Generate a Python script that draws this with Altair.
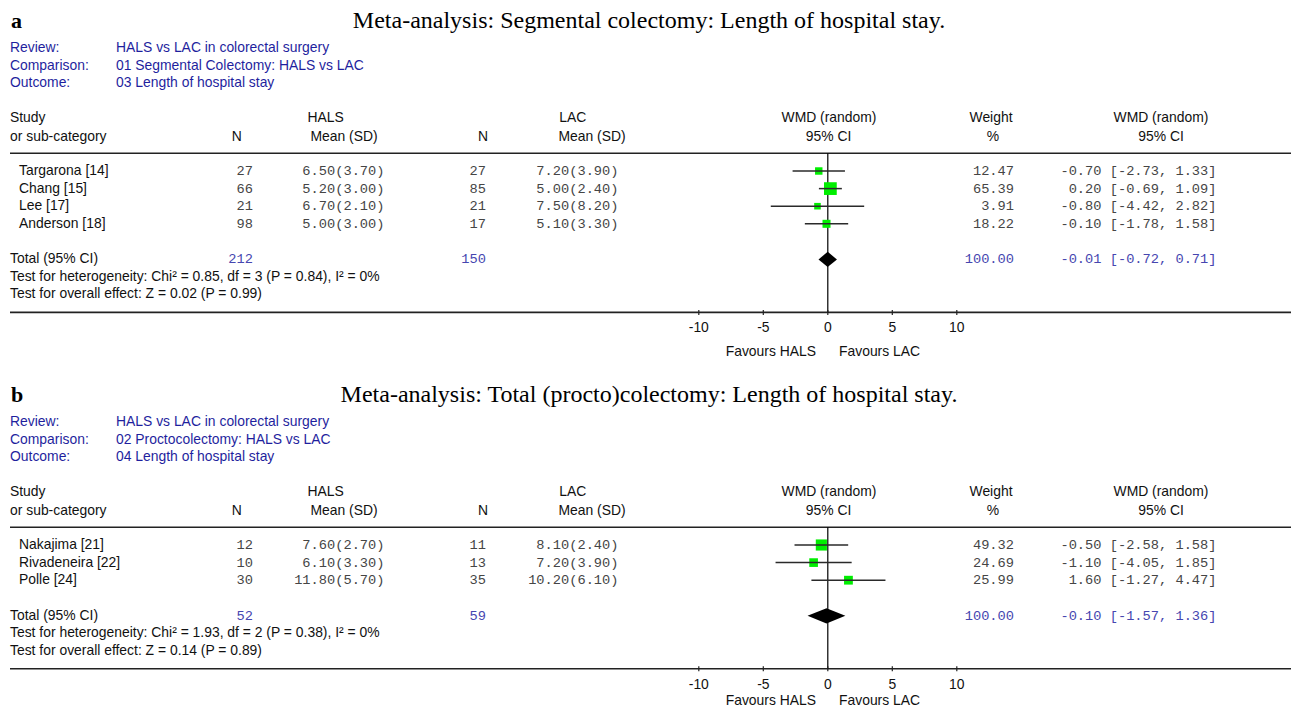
import altair as alt
import pandas as pd

# ---------------- data ----------------
# Panel a: Segmental colectomy
a_title = "Meta-analysis: Segmental colectomy: Length of hospital stay."
a_review = "HALS vs LAC in colorectal surgery"
a_comparison = "01 Segmental Colectomy: HALS vs LAC"
a_outcome = "03 Length of hospital stay"
a_study = ["Targarona [14]", "Chang [15]", "Lee [17]", "Anderson [18]"]
a_hals_n = [27, 66, 21, 98]
a_hals_mean = [6.50, 5.20, 6.70, 5.00]
a_hals_sd = [3.70, 3.00, 2.10, 3.00]
a_lac_n = [27, 85, 21, 17]
a_lac_mean = [7.20, 5.00, 7.50, 5.10]
a_lac_sd = [3.90, 2.40, 8.20, 3.30]
a_weight = [12.47, 65.39, 3.91, 18.22]
a_md = [-0.70, 0.20, -0.80, -0.10]
a_lo = [-2.73, -0.69, -4.42, -1.78]
a_hi = [1.33, 1.09, 2.82, 1.58]
a_total_n = [212, 150]
a_total_est = [-0.01, -0.72, 0.71]
a_het = "Test for heterogeneity: Chi\u00b2 = 0.85, df = 3 (P = 0.84), I\u00b2 = 0%"
a_overall = "Test for overall effect: Z = 0.02 (P = 0.99)"

# Panel b: Total (procto)colectomy
b_title = "Meta-analysis: Total (procto)colectomy: Length of hospital stay."
b_review = "HALS vs LAC in colorectal surgery"
b_comparison = "02 Proctocolectomy: HALS vs LAC"
b_outcome = "04 Length of hospital stay"
b_study = ["Nakajima [21]", "Rivadeneira [22]", "Polle [24]"]
b_hals_n = [12, 10, 30]
b_hals_mean = [7.60, 6.10, 11.80]
b_hals_sd = [2.70, 3.30, 5.70]
b_lac_n = [11, 13, 35]
b_lac_mean = [8.10, 7.20, 10.20]
b_lac_sd = [2.40, 3.90, 6.10]
b_weight = [49.32, 24.69, 25.99]
b_md = [-0.50, -1.10, 1.60]
b_lo = [-2.58, -4.05, -1.27]
b_hi = [1.58, 1.85, 4.47]
b_total_n = [52, 59]
b_total_est = [-0.10, -1.57, 1.36]
b_het = "Test for heterogeneity: Chi\u00b2 = 1.93, df = 2 (P = 0.38), I\u00b2 = 0%"
b_overall = "Test for overall effect: Z = 0.14 (P = 0.89)"

tick_values = [-10, -5, 0, 5, 10]

# ---------------- layout ----------------
W, H = 1283, 700
OX, OY = 8, 8              # page offset of the plot origin
K = 12.9                   # px per WMD unit
ZERO = 827.8 - OX          # x pixel of 0
XMIN = -ZERO / K
XMAX = XMIN + W / K
xscale = alt.Scale(domain=[XMIN, XMAX], nice=False, zero=False)

SANS, MONO, SERIF = "Liberation Sans", "Liberation Mono", "Liberation Serif"
FS, FM = 13.9, 13.7
BLUE = "#1f1f9e"
TBLUE = "#4646b0"
GREY = "#454545"

texts = {k: [] for k in ["sl", "sc", "sr", "bl", "mr", "mb", "letter", "title"]}
forest_rows, diamonds, hlines, zlines, ticks, ticklabs = [], [], [], [], [], []


def T(group, text, x, y):
    texts[group].append({"text": text, "px": x - OX, "py": y - OY})


def panel(letter, title, review, comp, outc, study, hn, hm, hs, ln, lm, ls,
          wt, md, lo, hi, tot_n, tot_est, het, overall, dy, tick_y=None, fav_y=None):
    T("letter", letter, 11, 28.3 + dy)
    T("title", title, 649, 28.3 + dy)
    for i, (lab, val) in enumerate([("Review:", review), ("Comparison:", comp), ("Outcome:", outc)]):
        y = 48.3 + 17.2 * i + dy
        T("bl", lab, 10, y)
        T("bl", val, 116, y)
    h1, h2 = 118.3 + dy, 136.5 + dy
    T("sl", "Study", 10, h1)
    T("sl", "or sub-category", 10, h2)
    T("sc", "N", 236.7, h2)
    T("sc", "HALS", 325.7, h1)
    T("sc", "Mean (SD)", 344, h2)
    T("sc", "N", 483, h2)
    T("sc", "LAC", 572.7, h1)
    T("sc", "Mean (SD)", 592, h2)
    T("sc", "WMD (random)", 829, h1)
    T("sc", "95% CI", 828.5, h2)
    T("sc", "Weight", 991, h1)
    T("sc", "%", 993, h2)
    T("sc", "WMD (random)", 1161, h1)
    T("sc", "95% CI", 1161, h2)
    hl = 153.3 + dy
    hlines.append({"py": hl - OY})
    row0, step = 171 + dy, 17.6
    for i in range(len(study)):
        y = row0 + step * i
        T("sl", study[i], 19, y)
        T("mr", f"{hn[i]}", 253, y)
        T("mr", f"{hm[i]:.2f}({hs[i]:.2f})", 384.5, y)
        T("mr", f"{ln[i]}", 486, y)
        T("mr", f"{lm[i]:.2f}({ls[i]:.2f})", 618.5, y)
        T("mr", f"{wt[i]:.2f}", 1014, y)
        T("mr", f"{md[i]:.2f} [{lo[i]:.2f}, {hi[i]:.2f}]", 1216.5, y)
        forest_rows.append({"md": md[i], "lo": lo[i], "hi": hi[i], "weight": wt[i], "py": y - OY})
    last = row0 + step * (len(study) - 1)
    tot = last + 35.6
    T("sl", "Total (95% CI)", 10, tot)
    T("mb", f"{tot_n[0]}", 253, tot)
    T("mb", f"{tot_n[1]}", 486, tot)
    T("mb", "100.00", 1014, tot)
    T("mb", f"{tot_est[0]:.2f} [{tot_est[1]:.2f}, {tot_est[2]:.2f}]", 1216.5, tot)
    T("sl", het, 10, tot + 17.4)
    T("sl", overall, 10, tot + 34.8)
    c = tot - OY
    for xv, y1, y2 in [(tot_est[1], c, c), (tot_est[0], c - 7.6, c + 7.6), (tot_est[2], c, c)]:
        diamonds.append({"panel": letter, "x": xv, "y1": y1, "y2": y2})
    ax = tot + 53
    hlines.append({"py": ax - OY})
    zlines.append({"z": 0, "y1": hl - OY, "y2": ax - OY})
    for t in tick_values:
        ticks.append({"t": t, "y1": ax - OY - 2.5, "y2": ax - OY + 2.5})
        ticklabs.append({"t": t, "lab": str(t), "py": (tick_y if tick_y else ax + 16) - OY})
    fy = fav_y if fav_y else ax + 39.4
    T("sr", "Favours HALS", 816, fy)
    T("sl", "Favours LAC", 839, fy)


panel("a", a_title, a_review, a_comparison, a_outcome, a_study, a_hals_n, a_hals_mean, a_hals_sd,
      a_lac_n, a_lac_mean, a_lac_sd, a_weight, a_md, a_lo, a_hi, a_total_n, a_total_est,
      a_het, a_overall, 0)
panel("b", b_title, b_review, b_comparison, b_outcome, b_study, b_hals_n, b_hals_mean, b_hals_sd,
      b_lac_n, b_lac_mean, b_lac_sd, b_weight, b_md, b_lo, b_hi, b_total_n, b_total_est,
      b_het, b_overall, 374, tick_y=684.5, fav_y=700.5)


def text_layer(group, align, font, size, color, weight="normal", baseline="middle"):
    df = pd.DataFrame(texts[group])
    return alt.Chart(df).mark_text(
        align=align, baseline=baseline, font=font, fontSize=size, color=color, fontWeight=weight
    ).encode(
        x=alt.X("px:Q", scale=None, axis=None),
        y=alt.Y("py:Q", scale=None, axis=None),
        text="text:N",
    )


layers = []
# horizontal lines (header line and axis baseline)
layers.append(
    alt.Chart(pd.DataFrame(hlines)).mark_rule(color="#222", strokeWidth=1.6).encode(
        x=alt.value(2), x2=alt.value(W), y=alt.Y("py:Q", scale=None, axis=None)
    )
)
# zero line
layers.append(
    alt.Chart(pd.DataFrame(zlines)).mark_rule(color="#000", strokeWidth=1.2).encode(
        x=alt.X("z:Q", scale=xscale, axis=None),
        y=alt.Y("y1:Q", scale=None, axis=None), y2="y2:Q",
    )
)
# axis ticks
layers.append(
    alt.Chart(pd.DataFrame(ticks)).mark_rule(color="#222", strokeWidth=1.2).encode(
        x=alt.X("t:Q", scale=xscale, axis=None),
        y=alt.Y("y1:Q", scale=None, axis=None), y2="y2:Q",
    )
)
# tick labels
layers.append(
    alt.Chart(pd.DataFrame(ticklabs)).mark_text(
        align="center", baseline="middle", font=SANS, fontSize=FS, color="#111"
    ).encode(
        x=alt.X("t:Q", scale=xscale, axis=None),
        y=alt.Y("py:Q", scale=None, axis=None),
        text="lab:N",
    )
)
fdf = pd.DataFrame(forest_rows)
# squares
layers.append(
    alt.Chart(fdf).transform_calculate(area="pow(6.2 + 0.1 * datum.weight, 2)").mark_square(
        color="#00ee00", opacity=1, filled=True
    ).encode(
        x=alt.X("md:Q", scale=xscale, axis=None),
        y=alt.Y("py:Q", scale=None, axis=None),
        size=alt.Size("area:Q", scale=None, legend=None),
    )
)
# CI lines
layers.append(
    alt.Chart(fdf).mark_rule(color="#2a2a2a", strokeWidth=1.5).encode(
        x=alt.X("lo:Q", scale=xscale, axis=None), x2="hi:Q",
        y=alt.Y("py:Q", scale=None, axis=None),
    )
)
# diamonds
layers.append(
    alt.Chart(pd.DataFrame(diamonds)).mark_area(color="#000", opacity=1).encode(
        x=alt.X("x:Q", scale=xscale, axis=None),
        y=alt.Y("y1:Q", scale=None, axis=None), y2="y2:Q",
        detail="panel:N",
    )
)
# texts
layers += [
    text_layer("sl", "left", SANS, FS, "#111"),
    text_layer("sc", "center", SANS, FS, "#111"),
    text_layer("sr", "right", SANS, FS, "#111"),
    text_layer("bl", "left", SANS, FS, BLUE),
    text_layer("mr", "right", MONO, FM, GREY),
    text_layer("mb", "right", MONO, FM, TBLUE),
    text_layer("letter", "left", SERIF, 22, "#000", weight="bold", baseline="alphabetic"),
    text_layer("title", "center", SERIF, 24, "#000", baseline="alphabetic"),
]

chart = alt.layer(*layers).properties(
    width=W, height=H, padding=0, background="white",
    autosize=alt.AutoSizeParams(type="none"),
).configure_view(stroke=None)

chart.save("out.html", embed_options={"renderer": "svg", "actions": False})
